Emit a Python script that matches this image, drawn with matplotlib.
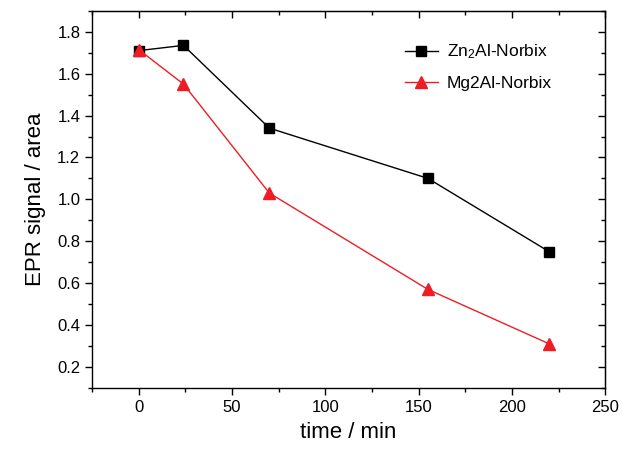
import matplotlib
matplotlib.use("Agg")
import matplotlib.pyplot as plt
from matplotlib.ticker import MultipleLocator

plt.rcParams['font.family'] = ['Liberation Sans', 'DejaVu Sans']
plt.rcParams['mathtext.default'] = 'regular'

# data
time_min = [0, 24, 70, 155, 220]
zn_signal = [1.71, 1.735, 1.34, 1.10, 0.75]
mg_signal = [1.715, 1.55, 1.03, 0.57, 0.31]

fig = plt.figure(figsize=(6.22, 4.51), dpi=100)
ax = fig.add_axes([0.148, 0.14, 0.825, 0.836])

ax.plot(time_min, zn_signal, color='black', lw=1.0, marker='s', ms=7,
        label='Zn$_2$Al-Norbix')
ax.plot(time_min, mg_signal, color='#ee1c24', lw=1.0, marker='^', ms=8,
        label='Mg2Al-Norbix')

ax.set_xlim(-25, 250)
ax.set_ylim(0.1, 1.9)
ax.xaxis.set_major_locator(MultipleLocator(50))
ax.xaxis.set_minor_locator(MultipleLocator(25))
ax.yaxis.set_minor_locator(MultipleLocator(0.1))
ax.set_yticks([0.2, 0.4, 0.6, 0.8, 1.0, 1.2, 1.4, 1.6, 1.8])

ax.tick_params(which='both', direction='out', labelsize=12, width=1)
ax.tick_params(which='major', length=5)
ax.tick_params(which='minor', length=3)

# inward ticks on the top and right frame, no labels
top = ax.secondary_xaxis('top')
top.xaxis.set_major_locator(MultipleLocator(50))
top.xaxis.set_minor_locator(MultipleLocator(25))
top.tick_params(which='both', direction='in', labeltop=False, width=1)
top.tick_params(which='major', length=5)
top.tick_params(which='minor', length=3)
right = ax.secondary_yaxis('right')
right.set_yticks([0.2, 0.4, 0.6, 0.8, 1.0, 1.2, 1.4, 1.6, 1.8])
right.yaxis.set_minor_locator(MultipleLocator(0.1))
right.tick_params(which='both', direction='in', labelright=False, width=1)
right.tick_params(which='major', length=5)
right.tick_params(which='minor', length=3)

for s in ax.spines.values():
    s.set_linewidth(1.0)

ax.set_xlabel('time / min', fontsize=16, labelpad=5)
ax.set_ylabel('EPR signal / area', fontsize=16, labelpad=8)

ax.legend(loc='upper left', bbox_to_anchor=(0.596, 0.934), borderaxespad=0,
          frameon=False, fontsize=12.5, handlelength=1.9, handletextpad=0.5,
          labelspacing=0.85)

fig.savefig('out.png', dpi=100)
